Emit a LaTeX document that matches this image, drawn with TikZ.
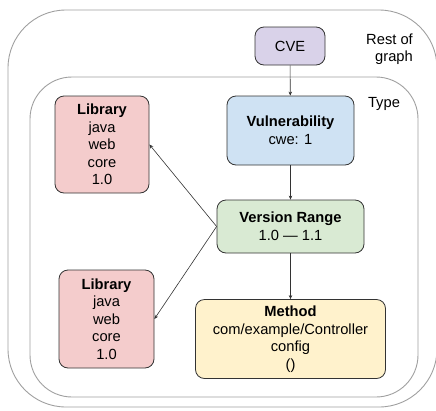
\documentclass[tikz,border=0pt]{standalone}
\usepackage{fontspec}
\setmainfont{Liberation Sans}
\usetikzlibrary{arrows.meta}
\definecolor{cvefill}{HTML}{D9D2E9}
\definecolor{vulnfill}{HTML}{CFE2F3}
\definecolor{libfill}{HTML}{F4CCCC}
\definecolor{verfill}{HTML}{D9EAD3}
\definecolor{methfill}{HTML}{FFF2CC}
\definecolor{edgec}{HTML}{333333}
\definecolor{contc}{HTML}{A0A0A0}
\tikzset{
  box/.style={draw=edgec, line width=0.8pt, rounded corners=9pt, align=center,
    inner sep=0pt, font=\fontsize{14.7}{17.6}\selectfont},
  cont/.style={draw=contc, line width=0.9pt},
  conn/.style={draw=edgec, line width=0.6pt, -{Stealth[length=4pt,width=3.5pt]}},
  lbl/.style={font=\fontsize{14.7}{17}\selectfont, inner sep=0pt}
}
\begin{document}
\begin{tikzpicture}[x=1pt,y=-1pt]
\useasboundingbox (0,0) rectangle (436,410);
\draw[cont, rounded corners=58pt] (8,10) rectangle (437,407);
\draw[cont, rounded corners=42pt] (30,77) rectangle (418,397);

\node[lbl, align=right, anchor=north east] (rest) at (413,34) {Rest of\\graph};
\node[lbl, anchor=center] (type) at (384,104) {Type};

\node[box, fill=cvefill, minimum width=70pt, minimum height=38pt] (cve) at (290,46) {CVE};
\node[box, fill=vulnfill, minimum width=127pt, minimum height=69pt] (vuln) at (290.5,130.5) {\textbf{Vulnerability}\\cwe: 1};
\node[box, fill=libfill, minimum width=94pt, minimum height=97pt] (lib1) at (102,144.5) {\textbf{Library}\\java\\web\\core\\1.0};
\node[box, fill=verfill, minimum width=147pt, minimum height=53pt] (ver) at (290.5,226.5) {\textbf{Version Range}\\1.0 — 1.1};
\node[box, fill=libfill, minimum width=95pt, minimum height=98pt] (lib2) at (106.5,319) {\textbf{Library}\\java\\web\\core\\1.0};
\node[box, fill=methfill, minimum width=190pt, minimum height=79pt] (meth) at (290.5,339) {\textbf{Method}\\com/example/Controller\\config\\()};

\draw[conn] (cve) -- (vuln);
\draw[conn] (vuln) -- (ver);
\draw[conn] (ver) -- (meth);
\draw[conn] (ver.west) -- (lib1.east);
\draw[conn] (ver.west) -- (lib2.east);
\end{tikzpicture}
\end{document}
